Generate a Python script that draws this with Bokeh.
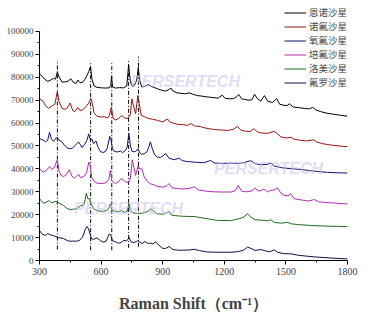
from bokeh.plotting import figure
from bokeh.models import (FixedTicker, BasicTickFormatter, Legend, LegendItem, Label, Range1d)
from bokeh.embed import file_html
from bokeh.resources import INLINE

# ---------------- data ----------------
names = ["恩诺沙星", "诺氟沙星", "氧氟沙星", "培氟沙星", "洛美沙星", "氟罗沙星"]
colors = ["#000000", "#9b1414", "#10106e", "#b02cb0", "#1f6b1f", "#101040"]

enro_x = [300,312,325,340,355,368,378,387,395,410,425,440,452,465,478,487,498,510,520,530,540,548,556,566,580,600,620,640,647,651,656,670,690,710,725,734,742,750,758,768,775,781,788,798,812,830,845,860,880,900,915,930,940,950,970,990,1010,1030,1050,1070,1090,1110,1130,1150,1170,1190,1205,1225,1245,1260,1270,1285,1300,1320,1335,1347,1360,1378,1395,1412,1435,1455,1470,1490,1505,1518,1535,1560,1590,1615,1630,1645,1670,1700,1730,1760,1800]
enro_y = [81500,80500,79200,78200,78800,79500,79200,82400,80200,77900,78000,78300,79400,77800,77300,78800,77600,77800,79000,80600,82500,84600,79000,76200,75600,75400,75300,75400,76500,80200,75800,75300,75500,75400,76200,85400,78500,76300,76000,77500,79500,84300,78800,75800,76000,76800,76000,75500,74800,74200,74000,74600,75300,74000,73200,73000,72800,73200,72500,72000,71800,71500,71300,71100,70900,72200,70800,70600,70700,71500,72500,70600,70300,70000,70200,72600,70800,69600,72000,69500,69000,70700,68200,67800,67600,68400,67000,66800,66400,66200,66900,65800,65000,64300,63900,63500,63000]

norf_x = [300,315,330,344,360,375,387,395,410,425,435,449,462,472,486,498,510,520,530,540,550,558,565,580,600,615,630,640,650,658,668,685,700,715,730,742,750,758,768,779,786,795,810,830,850,875,900,923,935,950,972,1000,1020,1037,1055,1086,1110,1151,1180,1216,1245,1264,1280,1300,1325,1345,1360,1380,1410,1443,1459,1475,1500,1524,1540,1570,1600,1636,1650,1680,1720,1760,1800]
norf_y = [70600,69800,67500,66500,67400,68200,73900,69500,66400,66000,66500,68800,65500,65000,66800,65500,65800,66500,67600,68800,70800,68500,64500,63000,62600,62800,62200,63200,67000,62200,61300,62000,63300,62200,62000,63500,70600,67500,64000,72000,68500,63500,62800,62000,61700,61200,60500,61800,60500,60000,59500,59300,59000,59800,58800,58400,57800,57200,57000,56800,57300,58600,57000,56500,56300,57600,56200,55700,55500,56400,55300,54000,53500,53800,53000,52500,52200,52700,51700,51000,50400,50000,49700]

oflo_x = [300,315,330,340,349,358,368,378,387,395,409,420,433,445,460,474,490,500,507,520,531,540,547,556,563,575,585,597,610,621,630,642,648,655,665,680,695,705,718,727,735,743,751,760,768,780,790,797,810,824,832,840,848,860,875,890,915,930,956,980,995,1020,1060,1100,1134,1150,1180,1220,1264,1290,1329,1350,1380,1410,1426,1445,1480,1540,1580,1620,1660,1703,1750,1800]
oflo_y = [53200,52700,51800,52500,56000,53000,52000,53300,53800,52600,51800,50500,49300,48800,49000,50300,51800,50500,49300,50700,52500,55300,52800,53000,51000,52200,49500,47500,47200,47600,49000,54200,52800,49000,47600,47400,47800,47100,48000,49500,55600,50000,47600,47500,47600,48800,46800,46400,46600,47500,49500,51800,49200,46300,45100,45000,46700,44700,44000,44700,43600,43200,42900,42700,43700,42600,42400,42500,42400,42600,43600,42300,41800,42000,42600,41200,40500,40000,39700,39200,38800,38500,38300,38200]

pefl_x = [300,319,335,349,360,372,387,395,405,417,430,445,458,470,480,490,500,517,530,540,547,554,565,580,605,625,638,645,652,665,680,700,715,732,742,752,760,768,780,790,798,810,825,840,860,873,900,920,931,945,970,1000,1030,1053,1075,1110,1150,1190,1232,1255,1268,1285,1310,1335,1350,1365,1380,1394,1410,1425,1440,1459,1475,1490,1510,1524,1540,1570,1610,1638,1660,1700,1750,1800]
pefl_y = [40000,38500,39500,41000,39800,40500,44000,39000,37200,36600,37500,39600,36800,36000,36700,37700,36200,36700,38500,42900,41500,36500,34600,33800,33600,34000,35500,39300,35000,33700,34000,35800,34600,34000,35500,44000,40500,37100,41500,39800,40200,36500,34500,33500,33000,32400,32000,32600,33600,31800,31400,31200,31500,32200,30800,30300,30000,29900,29900,30500,32800,30200,30000,30400,31700,30300,30600,31200,30000,30600,30700,31700,29500,28500,28200,29200,27000,26500,26000,26600,25600,25300,25000,24700]

lome_x = [300,319,335,344,360,375,387,400,417,430,449,465,482,498,515,522,528,535,543,552,565,580,605,628,638,645,652,665,685,700,715,728,735,742,755,776,795,813,830,840,850,873,900,915,931,945,970,1000,1053,1100,1167,1230,1270,1295,1313,1325,1350,1394,1410,1426,1445,1480,1508,1525,1560,1620,1700,1750,1800]
lome_y = [27000,25000,25500,26200,25200,25800,25500,24800,24000,23000,22200,22400,22600,23800,24200,26500,29400,27000,26900,24500,22500,21800,21400,21800,23000,24800,22200,21500,21300,21800,21000,21500,25000,22000,20800,20500,20600,21000,21500,22600,22000,20400,20200,20600,21400,19700,19500,19300,19200,18500,17500,17400,18200,19000,20400,19200,17800,17500,17300,17800,16600,16300,16700,16000,15700,15300,15000,14900,14800]

fler_x = [300,314,330,340,353,370,387,400,417,435,449,465,480,495,510,522,531,538,545,553,563,580,597,613,625,633,640,647,655,670,685,700,711,724,737,745,760,772,780,790,800,813,830,840,852,866,880,900,915,931,950,975,1000,1030,1053,1080,1118,1180,1232,1270,1295,1313,1330,1350,1378,1395,1420,1443,1460,1490,1524,1560,1600,1650,1700,1750,1800]
fler_y = [13100,11400,11000,11800,11200,10800,10200,9800,9600,8700,8400,8500,8400,8800,10300,13400,14900,14000,12000,9500,9200,9900,8600,8000,8500,10200,11700,11000,8600,8200,7500,8000,8800,8500,10000,8200,7800,8300,8600,7900,7400,8300,7400,7600,7200,8200,6800,5300,5300,6100,4800,4500,4500,4600,4900,4300,3700,3600,3600,3900,4600,5800,5300,4400,4800,4300,3800,4600,3600,3000,2900,2300,1900,1500,1200,900,700]

marker_shifts = [387, 549, 652, 734, 782]
marker_low = [4800, 4500, 4500, 5500, 6000]
marker_high = [87500, 87000, 87000, 88000, 89000]

x_ticks = [300, 600, 900, 1200, 1500, 1800]
y_ticks = list(range(0, 100001, 10000))

series_x = [enro_x, norf_x, oflo_x, pefl_x, lome_x, fler_x]
series_y = [enro_y, norf_y, oflo_y, pefl_y, lome_y, fler_y]

# ---------------- figure ----------------
p = figure(width=390, height=321, output_backend="svg", toolbar_location=None,
           x_range=Range1d(300, 1800), y_range=Range1d(0, 111350),
           min_border_left=39, min_border_right=43, min_border_top=5, min_border_bottom=61)
p.outline_line_color = None
p.xgrid.visible = False
p.ygrid.visible = False
p.background_fill_color = "white"

# watermark
for wx, wy in [(745, 78000), (1150, 40200), (468, 22700)]:
    p.add_layout(Label(x=wx, y=wy, text="PERSERTECH", text_font="Liberation Sans",
                       text_font_style="bold italic", text_font_size="16px",
                       text_color="#c4c0f0", text_alpha=0.55, text_baseline="middle"))

# reference dash-dot lines
p.segment(x0=marker_shifts, y0=marker_low, x1=marker_shifts, y1=marker_high,
          line_color="black", line_width=1, line_dash="4 2 1 2")

items = []
for nm, c, xs, ys in zip(names, colors, series_x, series_y):
    r = p.line(xs, ys, line_color=c, line_width=1)
    items.append(LegendItem(label=nm, renderers=[r]))

legend = Legend(items=items, location="top_right", margin=0, padding=2, spacing=0,
                glyph_width=22, glyph_height=13, label_height=13, label_standoff=3,
                label_text_font="Noto Sans CJK SC", label_text_font_size="9.5px",
                border_line_color=None, background_fill_alpha=0)
p.add_layout(legend)

# axes
xa = p.xaxis[0]
xa.ticker = FixedTicker(ticks=x_ticks, minor_ticks=[450, 750, 1050, 1350, 1650])
xa.axis_label = "Raman Shift（cm⁻¹）"
xa.axis_label_text_font = "Liberation Serif"
xa.axis_label_text_font_style = "bold"
xa.axis_label_text_font_size = "16px"
xa.axis_label_standoff = 17
xa.major_label_text_font = "Liberation Serif"
xa.major_label_text_font_size = "10px"
xa.major_label_standoff = 3
xa.major_tick_out = 4
xa.major_tick_in = 0
xa.minor_tick_out = 2
xa.minor_tick_in = 0
xa.axis_line_color = "black"

ya = p.yaxis[0]
ya.ticker = FixedTicker(ticks=y_ticks, minor_ticks=list(range(5000, 100000, 10000)))
ya.formatter = BasicTickFormatter(use_scientific=False)
ya.bounds = (0, 100000)
ya.major_label_text_font = "Liberation Serif"
ya.major_label_text_font_size = "9px"
ya.major_label_standoff = 2
ya.major_tick_out = 4
ya.major_tick_in = 0
ya.minor_tick_out = 2
ya.minor_tick_in = 0
ya.axis_line_color = "black"

open("out.html", "w").write(file_html(p, INLINE))
